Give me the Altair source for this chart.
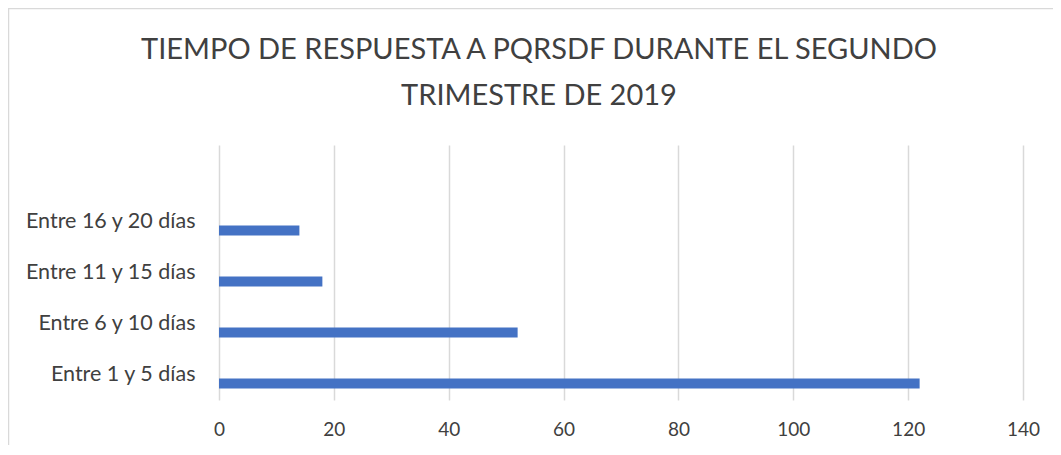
import altair as alt
import pandas as pd

categories = ["Entre 1 y 5 días", "Entre 6 y 10 días", "Entre 11 y 15 días", "Entre 16 y 20 días"]
values = [122, 52, 18, 14]
y_domain = [" ", "Entre 16 y 20 días", "Entre 11 y 15 días", "Entre 6 y 10 días", "Entre 1 y 5 días"]
x_ticks = [0, 20, 40, 60, 80, 100, 120, 140]

df = pd.DataFrame({"cat": categories, "val": values})

FONT = "Lato"
TXT = "#404040"

bars = alt.Chart(df).mark_bar(color="#4472C4", height=10, yOffset=9).encode(
    x=alt.X("val:Q", scale=alt.Scale(domain=[0, 140], nice=False),
            axis=alt.Axis(values=x_ticks, title=None, grid=True, gridColor="#d9d9d9",
                          gridWidth=1.5, domain=False, ticks=False, labelPadding=20,
                          labelFlush=False, labelOverlap=False,
                          labelFontSize=19, labelColor=TXT, labelFont=FONT)),
    y=alt.Y("cat:N", scale=alt.Scale(domain=y_domain, paddingInner=0, paddingOuter=0),
            sort=y_domain,
            axis=alt.Axis(title=None, domain=False, ticks=False, grid=False, labelPadding=24,
                          labelFontSize=21.5, labelColor=TXT, labelFont=FONT, labelLimit=400)),
)

frame = alt.Chart(pd.DataFrame({"a": [0]})).mark_rect(
    fill=None, stroke="#d9d9d9", strokeWidth=1.5, clip=False
).encode(
    x=alt.value(-210.5), x2=alt.value(900), y=alt.value(-136.5), y2=alt.value(400)
)

chart = alt.layer(frame, bars).properties(
    width=804, height=255,
    padding={"left": 211, "top": 137, "right": 30, "bottom": 45},
    autosize=alt.AutoSizeParams(type="none"),
    title=alt.TitleParams(
        ["TIEMPO DE RESPUESTA A PQRSDF DURANTE EL SEGUNDO", "TRIMESTRE DE 2019"],
        font=FONT, fontSize=29, fontWeight="normal", color="#404040",
        anchor="middle", dx=-82, offset=-103, lineHeight=46,
    ),
).configure(background="white").configure_view(stroke="transparent", strokeWidth=0)

chart.save("out.html", embed_options={"renderer": "svg", "actions": False})
